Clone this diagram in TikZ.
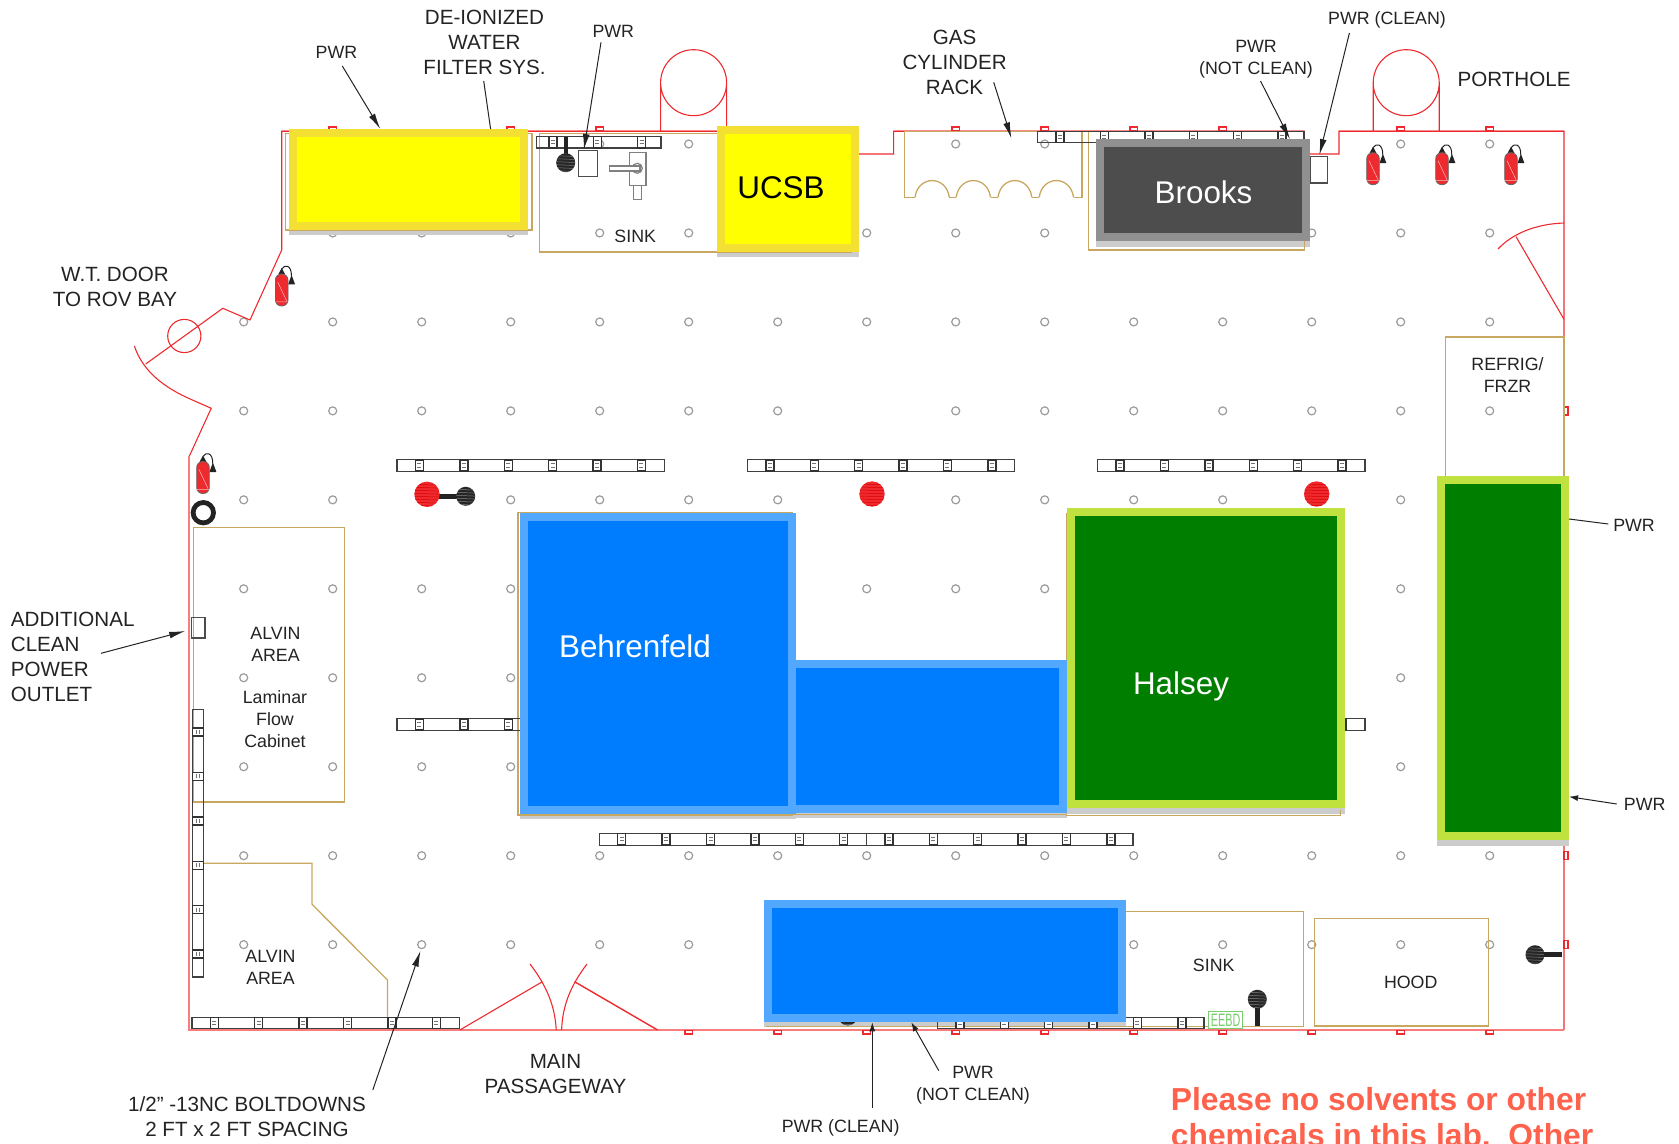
\documentclass[tikz,border=0pt]{standalone}
\usepackage{fontspec}
\setmainfont{Liberation Sans}
\usepackage{tikz}
\usetikzlibrary{arrows.meta}
\definecolor{wallred}{RGB}{238, 42, 46}
\definecolor{wallpink}{RGB}{250, 125, 125}
\definecolor{wallhalo}{RGB}{255, 190, 190}
\definecolor{tanline}{RGB}{200, 168, 96}
\definecolor{boltgray}{RGB}{155, 155, 155}
\definecolor{shadowgray}{RGB}{204, 204, 204}
\definecolor{inkgray}{RGB}{35, 35, 35}
\definecolor{blueedge}{RGB}{82, 168, 255}
\definecolor{bluecore}{RGB}{0, 124, 255}
\definecolor{yellowedge}{RGB}{243, 224, 50}
\definecolor{yellowcore}{RGB}{255, 255, 0}
\definecolor{greenedge}{RGB}{192, 226, 62}
\definecolor{greencore}{RGB}{0, 126, 0}
\definecolor{greyedge}{RGB}{144, 144, 144}
\definecolor{greycore}{RGB}{77, 77, 77}
\definecolor{noticered}{RGB}{255, 98, 76}
\definecolor{eebdgreen}{RGB}{120, 205, 110}
\tikzset{
  bolt/.style={draw=boltgray, line width=0.6pt},
  wall/.style={draw=wallred, line width=0.55pt},
  wallthick/.style={draw=wallpink, line width=1pt},
  walltick/.style={draw=wallred, line width=0.7pt},
  tanbox/.style={draw=tanline, line width=0.65pt},
  railbox/.style={draw=black!75, line width=0.6pt},
  bench/.style={line width=4pt},
  benchblue/.style={bench, draw=blueedge, fill=bluecore},
  benchyellow/.style={bench, draw=yellowedge, fill=yellowcore},
  benchgreen/.style={bench, draw=greenedge, fill=greencore},
  benchgrey/.style={bench, draw=greyedge, fill=greycore},
  lab/.style={inner sep=0pt, align=center, text=inkgray, font=\fontsize{8.9}{11}\selectfont},
  labbig/.style={lab, font=\fontsize{10.3}{12.5}\selectfont},
  labbench/.style={inner sep=0pt, text=white, font=\fontsize{15.7}{18}\selectfont},
  leader/.style={draw=inkgray, line width=0.5pt},
  leaderlong/.style={leader, -{Latex[length=8pt,width=3.4pt]}},
  leadershort/.style={leader, -{Latex[length=4.5pt,width=3pt]}},
  pics/outlet/.style={code={
    \draw[draw=black!80, fill=white, line width=0.7pt] (-4,-5.6) rectangle (4,5.6);
    \draw[draw=black!55, line width=0.5pt] (-2,-1.6) -- (2,-1.6) (-2,1.6) -- (2,1.6);
  }},
  pics/knob/.style n args={3}{code={
    \fill[#1] (0,0) circle (#3);
    \begin{scope}
      \clip (0,0) circle (#3);
      \foreach \s in {-10,-7,-4,-1,2,5,8,11}
        \draw[#2, line width=0.25pt] (-#3,\s) -- (#3,\s+0.8);
    \end{scope}
  }},
  pics/bottle/.style={code={
    \draw[inkgray, line width=0.5pt] (0,-21) .. controls (3,-26) and (10,-25) .. (9.7,-14);
    \fill[inkgray] (-3.5,-15.5) -- (3.5,-15.5) -- (0,-22) -- cycle;
    \fill[inkgray] (6.4,-5.5) -- (13.4,-5.5) -- (9.9,-15) -- cycle;
    \draw[draw=black!60, fill=wallred, line width=0.4pt, rounded corners=3pt] (-6.3,-16) rectangle (6.3,16);
    \draw[white!70!wallred, line width=0.25pt] (-4,-8) -- (5,11) (-6,12) -- (6,12);
  }}
}
\newcommand{\railh}[5]{
  \draw[railbox] (#1,{#3-5.8}) rectangle (#2,{#3+5.8});
  \foreach \i in {0,...,#5} \pic at ({#4+44.4*\i},#3) {outlet};
}
\newcommand{\railv}[5]{
  \draw[railbox] ({#1-5.6},#2) rectangle ({#1+5.6},#3);
  \foreach \i in {0,...,#5} \pic[rotate=90] at (#1,{#4+44.4*\i}) {outlet};
}
\begin{document}
\begin{tikzpicture}[x=0.5pt, y=-0.5pt]
  \useasboundingbox (0,0) rectangle (1679,1144);

  % boltdown grid
  \foreach \row/\cols in {0/{1,2,3,4,5,8,9,10,11,13,14}, 1/{1,2,3,4,5,6,7,8,9,10,11,12,13,14},
                          2/{0,1,2,3,4,5,6,7,8,9,10,11,12,13,14}, 3/{0,1,2,3,4,5,6,8,9,10,11,12,13,14},
                          4/{0,1,3,4,5,6,8,9,10,11,13}, 5/{0,1,2,3,7,8,9,13}, 6/{0,1,2,3,13}, 7/{0,1,2,3,13},
                          8/{0,1,2,3,4,5,6,7,8,9,10,11,12,13,14}, 9/{0,1,2,3,4,5,10,11,12,13,14}}
    \foreach \k in \cols
      \draw[bolt] ({243.7+89*\k},{144+88.96*\row}) circle (4);

  % walls
  \draw[draw=wallhalo, line width=1pt] (281.7,130.6) -- (727,130.6);
  \draw[draw=wallhalo, line width=1pt] (893.6,130.6) -- (1304,130.6) (1339,130.6) -- (1564,130.6);
  \draw[wall] (145.7,364) -- (222.8,308.3) -- (250,320) -- (281.7,250) -- (281.7,131.3) -- (727,131.3) -- (727,154)
    -- (893.6,154) -- (893.6,131.3) -- (1304.4,131.3) -- (1304.4,154) -- (1339,154) -- (1339,131.3) -- (1564,131.3) -- (1564,1030);
  \draw[wall] (134.4,346) .. controls (143,372) and (165,388) .. (191.3,399.5) -- (211.2,408.3) -- (189.4,456);
  \draw[wallthick] (189.4,456) -- (189.4,1030) -- (1564,1030);
  \draw[wall] (184.3,336) circle (16.6);

  % portholes
  \draw[wall] (693.6,82.7) circle (33) (660.6,82.7) -- (660.6,131.3) (726.6,82.7) -- (726.6,131.3);
  \draw[wall] (1406.2,82.7) circle (33) (1373.2,82.7) -- (1373.2,131.3) (1439.2,82.7) -- (1439.2,131.3);

  % doors
  \draw[wall] (1564,223) .. controls (1535,224) and (1512,234) .. (1498,249);
  \draw[wall] (1516,236.7) -- (1564,319.3);
  \draw[wall] (459.8,1030) -- (542.4,981.7);
  \draw[wall] (530,964) .. controls (546,985) and (555,1005) .. (556.2,1030);
  \draw[wall, line width=0.7pt] (657.6,1030) -- (574.6,981.7);
  \draw[wall] (587,964) .. controls (571,985) and (562.5,1005) .. (561.6,1030);

  % ticks on the walls
  \foreach \k in {1,3,4,8,9,10,11,13,14}
    \draw[walltick] ({243.7+89*\k-3.6},131) rectangle ({243.7+89*\k+3.6},127);
  \foreach \k in {5,6,7,8,9,10,11,12,13,14}
    \draw[walltick] ({243.7+89*\k-3.6},1030.5) rectangle ({243.7+89*\k+3.6},1034);
  \foreach \row in {3,8,9}
    \draw[walltick] (1564,{144+88.96*\row-4}) rectangle (1568,{144+88.96*\row+4});

  % shadows under the benches
  \fill[shadowgray] (288.7,226) rectangle (527.6,235.3);
  \fill[shadowgray] (716.7,248) rectangle (859.3,256.7);
  \fill[shadowgray] (1095.5,237) rectangle (1310.3,246.7);
  \fill[shadowgray] (519.5,810) rectangle (795.8,818.7);
  \fill[shadowgray] (787.8,808) rectangle (1067,817.7);
  \fill[shadowgray] (1067.2,804) rectangle (1344.7,813.7);
  \fill[shadowgray] (764,1018) rectangle (1126.2,1027);
  \fill[shadowgray] (1437.3,836) rectangle (1569,845.7);

  % rooms and cabinets
  \draw[tanbox] (285.5,133.3) rectangle (531.9,230);
  \draw[tanbox] (539.4,133.7) rectangle (851,252);
  \draw[tanbox] (1088.5,131.3) rectangle (1304.4,250);
  \draw[tanbox] (915,197.3) -- (904.3,197.3) -- (904.3,131.3) -- (1082.1,131.3) -- (1082.1,197.3) -- (1073.5,197.3);
  \foreach \a/\b in {915/949.3, 956.2/990.5, 998/1031.8, 1039.2/1073.5}
    \draw[tanbox] (\a,197.3) .. controls (\a+3,175) and (\b-3,175) .. (\b,197.3);
  \foreach \a/\b in {949.3/956.2, 990.5/998, 1031.8/1039.2}
    \draw[tanbox] (\a,197.3) -- (\b,197.3);
  \draw[tanbox] (1445.3,477) -- (1445.3,337) -- (1564,337) -- (1564,477);
  \draw[tanbox] (193.6,527.7) rectangle (344.8,802);
  \draw[tanbox] (192.9,863.3) -- (312,863.3) -- (312,904.3) -- (387.5,980) -- (387.5,1017);
  \draw[tanbox] (518,512.3) rectangle (792.8,815);
  \draw[tanbox] (792.8,814.4) -- (1067,814.4);
  \draw[tanbox] (1066.8,512.7) -- (1066.8,815.7) -- (1340.7,815.7) -- (1340.7,810);
  \draw[tanbox] (765.7,1026.3) -- (1303.5,1026.3) -- (1303.5,911.3) -- (1126,911.3);
  \draw[tanbox] (1314.8,918.7) rectangle (1488.5,1026);

  % outlet rails
  \railh{536.7}{661}{142.3}{552.8}{2}
  \railh{1037.6}{1304}{137}{1060}{5}
  \railh{397}{664.2}{465.5}{419.4}{5}
  \railh{747.2}{1014.7}{465.5}{769.8}{5}
  \railh{1097.5}{1365}{465.5}{1120}{5}
  \railh{397}{664.2}{724.5}{419.4}{5}
  \railh{1097.5}{1365}{724.5}{1120}{5}
  \railh{599.5}{866.2}{839.3}{621.7}{5}
  \railh{866.2}{1133}{839.3}{888.8}{5}
  \railh{192}{459.4}{1023}{214.3}{5}
  \railh{937.6}{1204}{1023}{959.8}{5}
  \railv{198}{709.7}{977}{732}{5}

  \pic at (847.8,1016) {knob={black!85}{black!50}{9.5}};

  % benches
  \draw[benchyellow] (292.7,133) rectangle (523.6,226);
  \draw[benchyellow] (720.7,130) rectangle (855.3,248);
  \draw[benchgrey] (1099.5,143.3) rectangle (1306.3,237.3);
  \draw[benchblue] (523.5,517.3) rectangle (791.8,810);
  \draw[benchblue] (791.8,664.3) rectangle (1063,808.7);
  \draw[benchgreen] (1071.2,512) rectangle (1340.7,804.3);
  \draw[benchgreen] (1441.3,480.3) rectangle (1565,836);
  \draw[benchblue] (768,904.3) rectangle (1122.2,1018.3);

  % sink and small boxes
  \draw[draw=black!70, line width=0.6pt] (578.7,150.3) rectangle (597.3,176.3);
  \draw[draw=black!50, line width=0.6pt] (629.3,152.7) rectangle (646,185.3);
  \draw[draw=black!50, line width=0.6pt] (633.3,185.3) rectangle (641.7,199.7);
  \draw[draw=black!50, line width=0.6pt] (637.3,168.3) circle (5);
  \draw[draw=black!50, fill=white, line width=0.6pt] (609.7,166) rectangle (640,171);
  \draw[draw=black!70, line width=0.6pt] (1310.3,156.7) rectangle (1327.4,183);
  \draw[draw=black!70, line width=0.6pt] (191.3,617.3) rectangle (205,638);

  % knobs, ring and bottles
  \draw[inkgray, line width=2.2pt] (465.7,496.3) -- (427,496.3);
  \draw[inkgray, line width=2.2pt] (565.7,136.7) -- (565.7,162.7);
  \draw[inkgray, line width=2.4pt] (1257.3,1026) -- (1257.3,999.3);
  \draw[inkgray, line width=2.4pt] (1535,954.7) -- (1562,954.7);
  \pic at (427,494.3) {knob={wallred}{red!85!black}{12.7}};
  \pic at (872,494) {knob={wallred}{red!85!black}{12.7}};
  \pic at (1316.7,494) {knob={wallred}{red!85!black}{12.7}};
  \pic at (465.7,496.3) {knob={black!85}{black!50}{9.5}};
  \pic at (565.7,162.7) {knob={black!85}{black!50}{9.5}};
  \pic at (1257.3,999.3) {knob={black!85}{black!50}{9.5}};
  \pic at (1535,954.7) {knob={black!85}{black!50}{9.5}};
  \draw[inkgray, line width=2.4pt] (203.3,512.7) circle (10.2);
  \foreach \x/\y in {281.7/290, 203/477.5, 1373/168.7, 1442/168.7, 1511/168.7}
    \pic at (\x,\y) {bottle};

  % EEBD tag
  \node[draw=eebdgreen, fill=white, line width=0.5pt, inner sep=0pt, minimum width=17.3pt, minimum height=8.3pt,
        text=eebdgreen, font=\fontsize{9}{10}\selectfont] (tagEebd) at (1225.6,1020) {\scalebox{0.6}[1]{EEBD}};

  % bench names
  \node[labbench, text=black] (nameUcsb) at (781,188) {UCSB};
  \node[labbench] (nameBrooks) at (1203.5,192.5) {Brooks};
  \node[labbench] (nameBehrenfeld) at (635,646.5) {Behrenfeld};
  \node[labbench] (nameHalsey) at (1181,686.5) {Halsey};

  % labels
  \node[lab] (lblPwrDesk) at (336.4,52.8) {PWR};
  \node[labbig] (lblWater) at (484.5,42.5) {DE-IONIZED\\WATER\\FILTER SYS.};
  \node[lab] (lblPwrSink) at (613.3,31.2) {PWR};
  \node[labbig] (lblGas) at (954.6,62) {GAS\\CYLINDER\\RACK};
  \node[lab] (lblPwrNotTop) at (1256,59.5) {PWR\\(NOT CLEAN)};
  \node[lab] (lblPwrCleanTop) at (1387,20.3) {PWR (CLEAN)};
  \node[labbig] (lblPorthole) at (1514,79) {PORTHOLE};
  \node[lab] (lblRefrig) at (1507.5,375) {REFRIG/\\FRZR};
  \node[labbig] (lblDoor) at (115,286.5) {W.T. DOOR\\TO ROV BAY};
  \node[lab] (lblSinkTop) at (635.2,236) {SINK};
  \node[labbig, align=left, anchor=west] (lblOutlet) at (10.5,657) {ADDITIONAL\\CLEAN\\POWER\\OUTLET};
  \node[lab] (lblAlvinTop) at (275.5,644.2) {ALVIN\\AREA};
  \node[lab] (lblLaminar) at (275,719.5) {Laminar\\Flow\\Cabinet};
  \node[lab] (lblAlvinLow) at (270.5,967.8) {ALVIN\\AREA};
  \node[labbig] (lblBolts) at (247,1116.5) {1/2" -13NC BOLTDOWNS\\2 FT x 2 FT SPACING};
  \node[labbig] (lblMain) at (555.5,1074.5) {MAIN\\PASSAGEWAY};
  \node[lab] (lblSinkLow) at (1213.7,965.2) {SINK};
  \node[lab] (lblHood) at (1410.7,982.8) {HOOD};
  \node[lab] (lblPwrNotLow) at (973,1085.5) {PWR\\(NOT CLEAN)};
  \node[lab] (lblPwrCleanLow) at (840.6,1128.3) {PWR (CLEAN)};
  \node[lab] (lblPwrFridgeTop) at (1634,525) {PWR};
  \node[lab] (lblPwrFridgeLow) at (1644.7,804) {PWR};
  \node[inner sep=0pt, anchor=north west, align=left, text=noticered, font=\bfseries\fontsize{15.9}{18}\selectfont]
    (lblNotice) at (1170.5,1087.5) {Please no solvents or other\\chemicals in this lab.~~Other};

  % leaders
  \coordinate (tailPwrDesk) at (342.3,66);       \coordinate (tipPwrDesk) at (380.3,129);
  \coordinate (tailWater) at (483.7,81);         \coordinate (tipWater) at (490.6,129);
  \coordinate (tailPwrSink) at (601,42.3);       \coordinate (tipPwrSink) at (583.8,150);
  \coordinate (tailGas) at (993.7,82.3);         \coordinate (tipGas) at (1011.4,138.3);
  \coordinate (tailPwrNotTop) at (1260.5,81);    \coordinate (tipPwrNotTop) at (1290,139.3);
  \coordinate (tailPwrCleanTop) at (1349.4,33);  \coordinate (tipPwrCleanTop) at (1319.4,155);
  \coordinate (tailOutlet) at (101,653.3);       \coordinate (tipOutlet) at (185.2,631);
  \coordinate (tailBolts) at (372.8,1090);       \coordinate (tipBolts) at (420.5,950.7);
  \coordinate (tailPwrNotLow) at (938.8,1070.7); \coordinate (tipPwrNotLow) at (911.3,1022.3);
  \coordinate (tailPwrCleanLow) at (872.3,1108.3); \coordinate (tipPwrCleanLow) at (872.3,1022.3);
  \coordinate (tailFridgeTop) at (1608.3,524);   \coordinate (tipFridgeTop) at (1569,519);
  \coordinate (tailFridgeLow) at (1616.7,804);   \coordinate (tipFridgeLow) at (1569,796.7);
  \draw[leaderlong] (tailPwrDesk) -- (tipPwrDesk);
  \draw[leader] (tailWater) -- (tipWater);
  \draw[leaderlong] (tailPwrSink) -- (tipPwrSink);
  \draw[leaderlong] (tailGas) -- (tipGas);
  \draw[leaderlong] (tailPwrNotTop) -- (tipPwrNotTop);
  \draw[leaderlong] (tailPwrCleanTop) -- (tipPwrCleanTop);
  \draw[leaderlong] (tailOutlet) -- (tipOutlet);
  \draw[leaderlong] (tailBolts) -- (tipBolts);
  \draw[leadershort] (tailPwrNotLow) -- (tipPwrNotLow);
  \draw[leadershort] (tailPwrCleanLow) -- (tipPwrCleanLow);
  \draw[leader] (tailFridgeTop) -- (tipFridgeTop);
  \draw[leadershort] (tailFridgeLow) -- (tipFridgeLow);
\end{tikzpicture}
\end{document}
